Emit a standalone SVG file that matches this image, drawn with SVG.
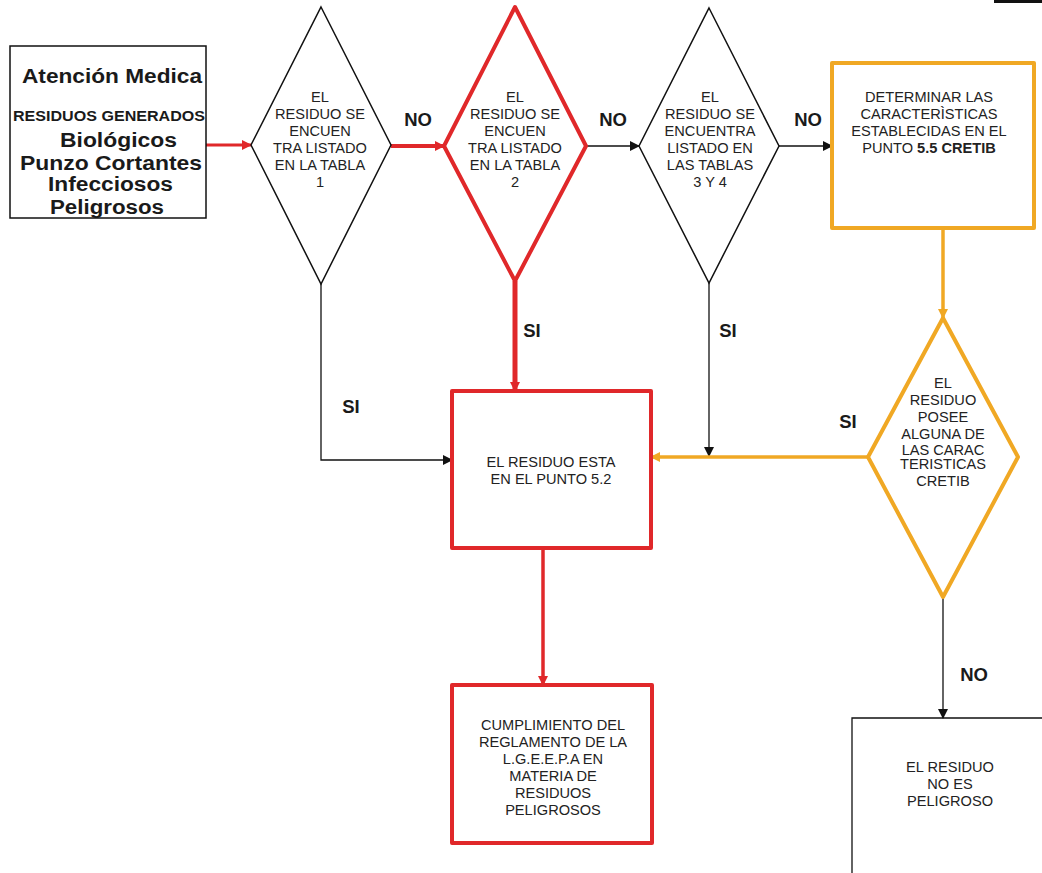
<svg xmlns="http://www.w3.org/2000/svg" width="1042" height="873" viewBox="0 0 1042 873">
<style>
.t{font-family:"Liberation Sans",Arial,sans-serif;font-size:14.6px;fill:#222;text-anchor:middle}
.b{font-family:"Liberation Sans",Arial,sans-serif;font-weight:bold;fill:#1a1a1a}
.lbl{font-family:"Liberation Sans",Arial,sans-serif;font-weight:bold;font-size:18.5px;fill:#1a1a1a;text-anchor:middle}
.blk{fill:#fff;stroke:#111;stroke-width:1.5}
.red{fill:#fff;stroke:#e0282a;stroke-width:4;stroke-linejoin:round}
.yel{fill:#fff;stroke:#f0a824;stroke-width:4;stroke-linejoin:round}
.cb{fill:none;stroke:#111;stroke-width:1.3}
.cr{fill:none;stroke:#e0282a}
.cy{fill:none;stroke:#f0a824;stroke-width:3.5}
</style>
<defs>
<marker id="ab" markerWidth="10" markerHeight="10" refX="9" refY="5" orient="auto" markerUnits="userSpaceOnUse"><path d="M0,0 L10,5 L0,10 Z" fill="#111"/></marker>
<marker id="ar" markerWidth="10" markerHeight="10" refX="9" refY="5" orient="auto" markerUnits="userSpaceOnUse"><path d="M0,0 L10,5 L0,10 Z" fill="#e0282a"/></marker>
<marker id="ay" markerWidth="10" markerHeight="10" refX="9" refY="5" orient="auto" markerUnits="userSpaceOnUse"><path d="M0,0 L10,5 L0,10 Z" fill="#f0a824"/></marker>
</defs>
<rect x="994" y="0" width="48" height="3" fill="#111"/>
<g id="connectors">
<line class="cr" x1="206" y1="145" x2="251" y2="145" stroke-width="3" marker-end="url(#ar)"/>
<line class="cr" x1="391" y1="146" x2="444" y2="146" stroke-width="4" marker-end="url(#ar)"/>
<line class="cb" x1="586" y1="146" x2="639" y2="146" marker-end="url(#ab)"/>
<line class="cb" x1="779" y1="146" x2="832" y2="146" marker-end="url(#ab)"/>
<line class="cy" x1="943" y1="228" x2="943" y2="318" marker-end="url(#ay)"/>
<line class="cr" x1="515" y1="281" x2="515" y2="391" stroke-width="5" marker-end="url(#ar)"/>
<polyline class="cb" points="321,284 321,460 452,460" marker-end="url(#ab)"/>
<line class="cb" x1="709" y1="283" x2="709" y2="456" marker-end="url(#ab)"/>
<line class="cy" x1="868" y1="457" x2="651" y2="457" marker-end="url(#ay)"/>
<line class="cr" x1="543" y1="548" x2="543" y2="685" stroke-width="3.5" marker-end="url(#ar)"/>
<line class="cb" x1="943" y1="597" x2="943" y2="718" marker-end="url(#ab)"/>
</g>
<g id="labels">
<text class="lbl" x="418" y="126">NO</text>
<text class="lbl" x="613" y="126">NO</text>
<text class="lbl" x="808" y="126">NO</text>
<text class="lbl" x="532" y="337">SI</text>
<text class="lbl" x="728" y="337">SI</text>
<text class="lbl" x="351" y="413">SI</text>
<text class="lbl" x="848" y="428">SI</text>
<text class="lbl" x="974" y="681">NO</text>
</g>
<g id="origen">
<rect class="blk" x="10" y="46" width="196" height="172"/>
<text class="b" x="22" y="83" font-size="21" textLength="180" lengthAdjust="spacingAndGlyphs">Atención Medica</text>
<text class="b" x="13" y="121" font-size="15" textLength="192" lengthAdjust="spacingAndGlyphs">RESIDUOS GENERADOS</text>
<text class="b" x="60" y="147" font-size="20" textLength="117" lengthAdjust="spacingAndGlyphs">Biológicos</text>
<text class="b" x="20" y="170" font-size="20.5" textLength="182" lengthAdjust="spacingAndGlyphs">Punzo Cortantes</text>
<text class="b" x="48" y="191" font-size="19.5" textLength="125" lengthAdjust="spacingAndGlyphs">Infecciosos</text>
<text class="b" x="50" y="214" font-size="19.5" textLength="114" lengthAdjust="spacingAndGlyphs">Peligrosos</text>
</g>
<g id="tabla1">
<polygon class="blk" points="321,7 391,145 321,284 251,145"/>
<text class="t" x="320" y="102">EL</text>
<text class="t" x="320" y="119">RESIDUO SE</text>
<text class="t" x="320" y="136">ENCUEN</text>
<text class="t" x="320" y="153">TRA LISTADO</text>
<text class="t" x="320" y="170">EN LA TABLA</text>
<text class="t" x="320" y="187">1</text>
</g>
<g id="tabla2">
<polygon class="red" points="515,7 586,146 515,281 444,146"/>
<text class="t" x="515" y="102">EL</text>
<text class="t" x="515" y="119">RESIDUO SE</text>
<text class="t" x="515" y="136">ENCUEN</text>
<text class="t" x="515" y="153">TRA LISTADO</text>
<text class="t" x="515" y="170">EN LA TABLA</text>
<text class="t" x="515" y="187">2</text>
</g>
<g id="tabla34">
<polygon class="blk" points="709,8 779,146 709,283 639,146"/>
<text class="t" x="710" y="102">EL</text>
<text class="t" x="710" y="119">RESIDUO SE</text>
<text class="t" x="710" y="136">ENCUENTRA</text>
<text class="t" x="710" y="153">LISTADO EN</text>
<text class="t" x="710" y="170">LAS TABLAS</text>
<text class="t" x="710" y="187">3 Y 4</text>
</g>
<g id="determinar">
<rect class="yel" x="832" y="63" width="202" height="165"/>
<text class="t" x="929" y="102">DETERMINAR LAS</text>
<text class="t" x="929" y="119">CARACTERÌSTICAS</text>
<text class="t" x="929" y="136">ESTABLECIDAS EN EL</text>
<text class="t" x="929" y="153">PUNTO <tspan font-weight="bold">5.5 CRETIB</tspan></text>
</g>
<g id="posee">
<polygon class="yel" points="943,318 1018,457 943,597 868,457"/>
<text class="t" x="943" y="388">EL</text>
<text class="t" x="943" y="405">RESIDUO</text>
<text class="t" x="943" y="422">POSEE</text>
<text class="t" x="943" y="439">ALGUNA DE</text>
<text class="t" x="943" y="455">LAS CARAC</text>
<text class="t" x="943" y="469">TERISTICAS</text>
<text class="t" x="943" y="486">CRETIB</text>
</g>
<g id="punto52">
<rect class="red" x="452" y="391" width="199" height="157"/>
<text class="t" x="551" y="467">EL RESIDUO ESTA</text>
<text class="t" x="551" y="484">EN EL PUNTO 5.2</text>
</g>
<g id="cumplimiento">
<rect class="red" x="452" y="685" width="200" height="158"/>
<text class="t" x="553" y="730">CUMPLIMIENTO DEL</text>
<text class="t" x="553" y="747">REGLAMENTO DE LA</text>
<text class="t" x="553" y="764">L.G.E.E.P.A EN</text>
<text class="t" x="553" y="781">MATERIA DE</text>
<text class="t" x="553" y="798">RESIDUOS</text>
<text class="t" x="553" y="815">PELIGROSOS</text>
</g>
<g id="nopeligroso">
<polyline class="cb" points="852,873 852,718 1042,718" stroke-width="1.5"/>
<text class="t" x="950" y="772">EL RESIDUO</text>
<text class="t" x="950" y="789">NO ES</text>
<text class="t" x="950" y="806">PELIGROSO</text>
</g>
</svg>
